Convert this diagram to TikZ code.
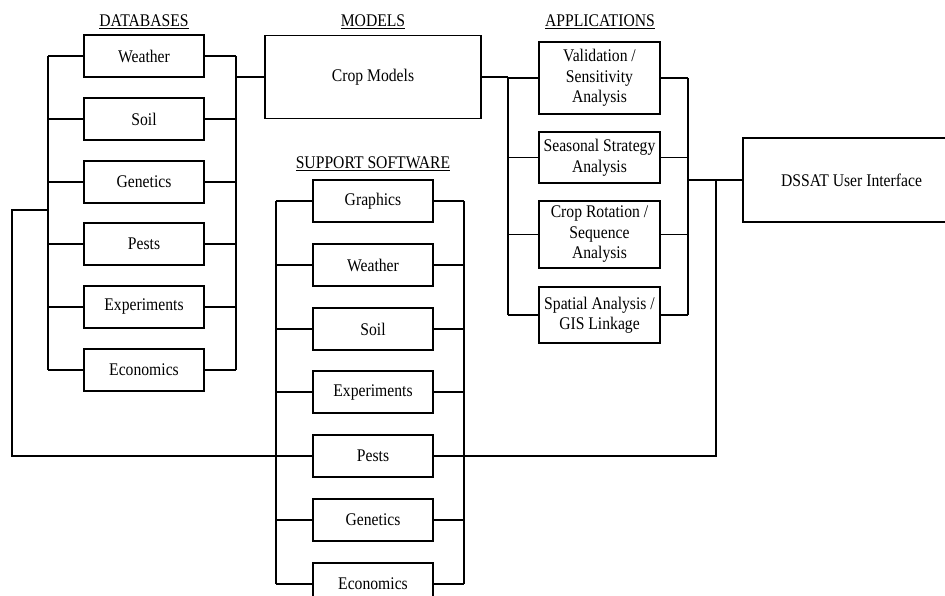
\documentclass[tikz,border=0pt]{standalone}
\usepackage{fontspec}
\setmainfont{Liberation Serif}[FakeStretch=0.88]
\usetikzlibrary{calc}

\tikzset{
  box/.style={draw, line width=1.6bp, minimum width=120bp, minimum height=42bp,
    inner sep=1bp, align=center, font=\fontsize{17.8bp}{20.5bp}\selectfont},
  appbox/.style={box, minimum width=121bp},
  head/.style={anchor=base, inner sep=0pt, font=\fontsize{17.8bp}{20.5bp}\selectfont},
  wire/.style={line width=1.4bp},
}

\begin{document}
\begin{tikzpicture}[x=1bp,y=-1bp,line join=miter]
\useasboundingbox (0,0) rectangle (945,596);
%%
% Headings
\node[head] (hDatabases) at (144,27) {\underline{DATABASES}};
\node[head] (hModels) at (373,27) {\underline{MODELS}};
\node[head] (hApplications) at (600,27) {\underline{APPLICATIONS}};
\node[head] (hSupport) at (373,169) {\underline{SUPPORT SOFTWARE}};
%
% Bus lines
\coordinate (dbL) at (48,0);
\coordinate (dbR) at (236,0);
\coordinate (ssL) at (276,0);
\coordinate (ssR) at (464,0);
\coordinate (apL) at (508,0);
\coordinate (apR) at (688,0);
\coordinate (pestUp) at (716,0);
\coordinate (farL) at (12,210);
%
% Node: databases
\node[box] (dbWeather) at (144,56) {Weather};
\node[box] (dbSoil) at (144,119) {Soil};
\node[box] (dbGenetics) at (144,182) {Genetics};
\node[box] (dbPests) at (144,244) {Pests};
\node[box] (dbExperiments) at (144,307) {Experiments};
\node[box] (dbEconomics) at (144,370) {Economics};
%
% Node: Crop Models
\node[box, minimum width=216bp, minimum height=83bp] (cropModels) at (373,77) {Crop Models};
%
% Node: support software
\node[box] (ssGraphics) at (373,201) {Graphics};
\node[box] (ssWeather) at (373,265) {Weather};
\node[box] (ssSoil) at (373,329) {Soil};
\node[box] (ssExperiments) at (373,392) {Experiments};
\node[box] (ssPests) at (373,456) {Pests};
\node[box] (ssGenetics) at (373,520) {Genetics};
\node[box] (ssEconomics) at (373,584) {Economics};
%
% Node: applications
\node[appbox, minimum height=72bp] (apValidation) at (599.5,78) {Validation /\\Sensitivity\\Analysis};
\node[appbox, minimum height=51bp] (apSeasonal) at (599.5,157.5) {Seasonal Strategy\\Analysis};
\node[appbox, minimum height=67bp] (apRotation) at (599.5,234.5) {Crop Rotation /\\Sequence\\Analysis};
\node[appbox, minimum height=56bp] (apSpatial) at (599.5,315) {Spatial Analysis /\\GIS Linkage};
%
% Node: DSSAT User Interface
\node[box, minimum width=217bp, minimum height=84bp] (dssat) at (851.5,180) {DSSAT User Interface};
%
% Edge: databases -> bus
\draw[wire] (dbWeather.west) -- (dbWeather.west -| dbL);
\draw[wire] (dbSoil.west) -- (dbSoil.west -| dbL);
\draw[wire] (dbGenetics.west) -- (dbGenetics.west -| dbL);
\draw[wire] (dbPests.west) -- (dbPests.west -| dbL);
\draw[wire] (dbExperiments.west) -- (dbExperiments.west -| dbL);
\draw[wire] (dbEconomics.west) -- (dbEconomics.west -| dbL);
\draw[wire] (dbWeather.west -| dbL) -- (dbEconomics.west -| dbL);
\draw[wire] (dbWeather.east) -- (dbWeather.east -| dbR);
\draw[wire] (dbSoil.east) -- (dbSoil.east -| dbR);
\draw[wire] (dbGenetics.east) -- (dbGenetics.east -| dbR);
\draw[wire] (dbPests.east) -- (dbPests.east -| dbR);
\draw[wire] (dbExperiments.east) -- (dbExperiments.east -| dbR);
\draw[wire] (dbEconomics.east) -- (dbEconomics.east -| dbR);
\draw[wire] (dbWeather.east -| dbR) -- (dbEconomics.east -| dbR);
%
% Edge: databases -> Crop Models -> applications
\draw[wire] (cropModels.west) -- (cropModels.west -| dbR);
\draw[wire] (cropModels.east) -- (cropModels.east -| apL);
%
% Edge: support software -> bus
\draw[wire] (ssGraphics.west) -- (ssGraphics.west -| ssL);
\draw[wire] (ssWeather.west) -- (ssWeather.west -| ssL);
\draw[wire] (ssSoil.west) -- (ssSoil.west -| ssL);
\draw[wire] (ssExperiments.west) -- (ssExperiments.west -| ssL);
\draw[wire] (ssGenetics.west) -- (ssGenetics.west -| ssL);
\draw[wire] (ssEconomics.west) -- (ssEconomics.west -| ssL);
\draw[wire] (ssGraphics.west -| ssL) -- (ssEconomics.west -| ssL);
\draw[wire] (ssGraphics.east) -- (ssGraphics.east -| ssR);
\draw[wire] (ssWeather.east) -- (ssWeather.east -| ssR);
\draw[wire] (ssSoil.east) -- (ssSoil.east -| ssR);
\draw[wire] (ssExperiments.east) -- (ssExperiments.east -| ssR);
\draw[wire] (ssGenetics.east) -- (ssGenetics.east -| ssR);
\draw[wire] (ssEconomics.east) -- (ssEconomics.east -| ssR);
\draw[wire] (ssGraphics.east -| ssR) -- (ssEconomics.east -| ssR);
%
% Edge: applications -> bus
\draw[wire] (apValidation.west) -- (apValidation.west -| apL);
\draw[wire] (apSeasonal.west) -- (apSeasonal.west -| apL);
\draw[wire] (apRotation.west) -- (apRotation.west -| apL);
\draw[wire] (apSpatial.west) -- (apSpatial.west -| apL);
\draw[wire] (cropModels.east -| apL) -- (apSpatial.west -| apL);
\draw[wire] (apValidation.east) -- (apValidation.east -| apR);
\draw[wire] (apSeasonal.east) -- (apSeasonal.east -| apR);
\draw[wire] (apRotation.east) -- (apRotation.east -| apR);
\draw[wire] (apSpatial.east) -- (apSpatial.east -| apR);
\draw[wire] (apValidation.east -| apR) -- (apSpatial.east -| apR);
%
% Edge: applications -> DSSAT User Interface
\draw[wire] (dssat.west) -- (dssat.west -| apR);
%
% Edge: databases -> Pests -> DSSAT User Interface
\draw[wire] (farL -| dbL) -- (farL) |- (ssPests.west);
\draw[wire] (ssPests.east) -| (pestUp |- dssat.west);
%
\end{tikzpicture}
\end{document}
